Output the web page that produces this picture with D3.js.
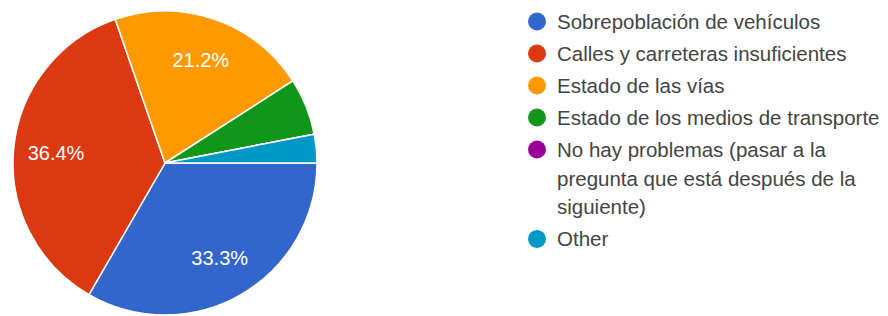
<!DOCTYPE html>
<html><head><meta charset="utf-8">
<script src="https://cdn.jsdelivr.net/npm/d3@7"></script>
<style>html,body{margin:0;padding:0;background:#fff;}</style>
</head><body>
<svg id="chart" width="888" height="316"></svg>
<script>
const categories = [
  "Sobrepoblación de vehículos",
  "Calles y carreteras insuficientes",
  "Estado de las vías",
  "Estado de los medios de transporte",
  "No hay problemas (pasar a la pregunta que está después de la siguiente)",
  "Other"
];
const legendLines = [
  ["Sobrepoblación de vehículos"],
  ["Calles y carreteras insuficientes"],
  ["Estado de las vías"],
  ["Estado de los medios de transporte"],
  ["No hay problemas (pasar a la", "pregunta que está después de la", "siguiente)"],
  ["Other"]
];
const counts = [11, 12, 7, 2, 0, 1];
const colors = ["#3366cc", "#dc3912", "#ff9900", "#109618", "#990099", "#0099c6"];

const svg = d3.select("#chart");
const cx = 165, cy = 163, R = 152;
const font = "Arial, 'Liberation Sans', sans-serif";
const total = d3.sum(counts);

const pie = d3.pie().sort(null).value(d => d)
  .startAngle(Math.PI / 2).endAngle(Math.PI / 2 + 2 * Math.PI);
const arcs = pie(counts);
const arc = d3.arc().innerRadius(0).outerRadius(R);
const labelArc = d3.arc().innerRadius(R * 0.72).outerRadius(R * 0.72);

const g = svg.append("g").attr("transform", `translate(${cx},${cy})`);
g.selectAll("path").data(arcs).join("path")
  .attr("d", arc)
  .attr("fill", (d, i) => colors[i])
  .attr("stroke", "#fff")
  .attr("stroke-width", 1.5);

g.selectAll("text").data(arcs.filter(d => d.value / total > 0.1)).join("text")
  .attr("transform", d => `translate(${labelArc.centroid(d)})`)
  .attr("text-anchor", "middle")
  .attr("dy", "0.36em")
  .attr("fill", "#fff")
  .attr("font-family", font)
  .attr("font-size", 20)
  .text(d => d3.format(".1f")(d.value / total * 100) + "%");

// legend
const legend = svg.append("g");
const rowGap = 32, lineH = 28.7;
let y = 21.5;
legendLines.forEach((lines, i) => {
  const item = legend.append("g").attr("transform", `translate(537,${y})`);
  item.append("circle").attr("r", 9).attr("fill", colors[i]);
  const t = item.append("text")
    .attr("fill", "#444")
    .attr("font-family", font)
    .attr("font-size", 20.5);
  lines.forEach((ln, j) => {
    t.append("tspan").attr("x", 20).attr("y", j * lineH).attr("dy", "0.36em").text(ln);
  });
  y += (lines.length - 1) * lineH + rowGap;
});
</script>
</body></html>
